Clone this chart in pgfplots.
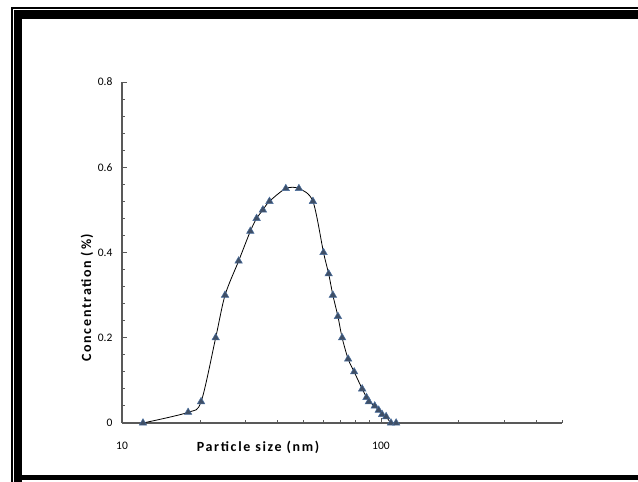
\documentclass[border=0pt]{standalone}
\usepackage{pgfplots}
\pgfplotsset{compat=1.18}
\usepackage{fontspec}
\setmainfont{Carlito}
\definecolor{axgray}{HTML}{595959}
\definecolor{mkfill}{HTML}{3F4F66}
\definecolor{mkdraw}{HTML}{4A6E9E}
\begin{document}
\begin{tikzpicture}[x=1pt,y=1pt]
\path (0,0) rectangle (638,482);
% frame
\fill[black] (11,0) rectangle (12.7,474.7);
\fill[black] (11,473) rectangle (638,474.7);
\fill[black] (14,0) rectangle (22,472);
\fill[black] (14,463) rectangle (638,472);
\fill[black] (14,2) rectangle (638,7);
\begin{axis}[
  at={(122pt,59pt)}, anchor=south west,
  scale only axis, width=440pt, height=341pt,
  xmode=log, xmin=10, xmax=500, ymin=0, ymax=0.8,
  axis x line=bottom, axis y line=left,
  axis line style={axgray, line width=1.6pt, -},
  xtick={10,100}, xticklabels={10,100},
  minor xtick={20,30,40,50,60,70,80,90,200,300,400,500},
  ytick={0,0.2,0.4,0.6,0.8}, yticklabels={0,0.2,0.4,0.6,0.8},
  minor ytick={0.04,0.08,...,0.79},
  tick style={axgray, line width=0.9pt},
  major tick length=5pt, minor tick length=3pt,
  tick align=inside,
  tick label style={font=\fontsize{11.5}{13}\selectfont, text=black},
  xticklabel style={anchor=center, yshift=-23pt},
  yticklabel style={anchor=east, xshift=-6pt},
  xlabel={\textbf{Particle size (nm)}},
  ylabel={\textbf{Concentration (\%)}},
  every axis x label/.style={at={(axis description cs:0.311,0)}, anchor=center, yshift=-24pt,
    font=\fontsize{14}{16}\selectfont\addfontfeature{LetterSpace=12}},
  every axis y label/.style={at={(axis description cs:0,0.37)}, anchor=center, xshift=-35pt, rotate=90,
    font=\fontsize{14}{16}\selectfont\addfontfeature{LetterSpace=12}},
  clip=false,
]
\addplot[black, line width=0.8pt, smooth, tension=0.5,
  mark=triangle*, mark size=4.3pt,
  mark options={fill=mkfill, draw=mkdraw, line width=0.5pt}]
coordinates {
(12.05,0) (18,0.025) (20.2,0.05) (23,0.2) (25,0.3) (28.2,0.38) (31.3,0.45)
(33.1,0.48) (35,0.5) (37.1,0.52) (42.9,0.55) (48.2,0.55) (54.6,0.52)
(60,0.4) (62.8,0.35) (65.2,0.3) (68.2,0.25) (70.8,0.2) (74.7,0.15)
(78.8,0.12) (84.6,0.08) (87.9,0.06) (89.8,0.05) (94.6,0.04) (98,0.03)
(101,0.02) (104.7,0.015) (109.3,0) (114.4,0)
};
\end{axis}
\end{tikzpicture}
\end{document}
